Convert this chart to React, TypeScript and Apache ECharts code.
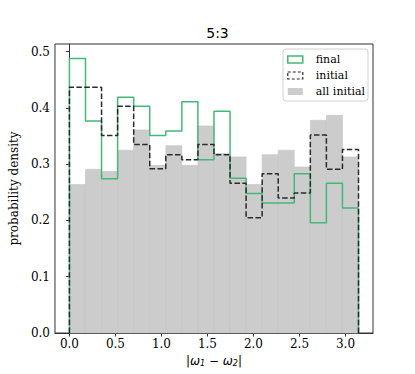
import React, { useEffect, useRef } from "react";
import * as echarts from "echarts";

const BIN_COUNT = 18;
const X_MAX_EDGE = Math.PI;
const allInitial = [0.264, 0.291, 0.287, 0.325, 0.361, 0.298, 0.333, 0.298, 0.368, 0.319, 0.313, 0.264, 0.317, 0.325, 0.295, 0.378, 0.387, 0.313];
const initial = [0.437, 0.437, 0.351, 0.403, 0.335, 0.292, 0.317, 0.308, 0.335, 0.317, 0.266, 0.205, 0.283, 0.240, 0.249, 0.352, 0.291, 0.326];
const finalVals = [0.488, 0.377, 0.274, 0.419, 0.403, 0.351, 0.359, 0.411, 0.308, 0.394, 0.275, 0.248, 0.231, 0.231, 0.283, 0.196, 0.266, 0.222];
const xTicks = [0, 0.5, 1.0, 1.5, 2.0, 2.5, 3.0];
const yTicks = [0, 0.1, 0.2, 0.3, 0.4, 0.5];

const GREEN = "#43b877";
const DASH = "#2a2a2a";
const GRAY = "#cccccc";

function edges(): number[] {
  const w = X_MAX_EDGE / BIN_COUNT;
  const e: number[] = [];
  for (let i = 0; i <= BIN_COUNT; i++) e.push(i * w);
  return e;
}

function stepPoints(vals: number[]): number[][] {
  const e = edges();
  const pts: number[][] = [[e[0], 0]];
  vals.forEach((v, i) => {
    pts.push([e[i], v]);
    pts.push([e[i + 1], v]);
  });
  pts.push([e[vals.length], 0]);
  return pts;
}

export default function App() {
  const ref = useRef<HTMLDivElement>(null);
  useEffect(() => {
    if (!ref.current) return;
    const chart = echarts.init(ref.current, undefined, { renderer: "svg" });
    const e = edges();
    const barData = allInitial.map((v, i) => [e[i], e[i + 1], v]);
    const serif = "DejaVu Serif";
    const legendText = { fontFamily: serif, fontSize: 11, color: "#000", lineHeight: 13, padding: [0, 0, 0, 8] };
    chart.setOption({
      animation: false,
      backgroundColor: "#ffffff",
      title: {
        text: "5:3",
        left: 212.5,
        textAlign: "center",
        top: 21,
        textStyle: { fontFamily: "DejaVu Sans", fontSize: 14, fontWeight: "normal", color: "#000" },
      },
      grid: { left: 52, right: 42, top: 44, bottom: 41, show: true, borderColor: "#333", borderWidth: 1 },
      legend: {
        orient: "vertical",
        right: 47,
        top: 49,
        backgroundColor: "#ffffff",
        borderColor: "#d0d0d0",
        borderWidth: 1,
        borderRadius: 3,
        padding: [4, 3, 3, 4],
        itemWidth: 15,
        itemHeight: 7,
        itemGap: 3,
        icon: "rect",
        textStyle: legendText,
        data: [
          { name: "final", icon: "rect", textStyle: legendText, itemStyle: { color: "rgba(255,255,255,0)", borderColor: GREEN, borderWidth: 1.5 } },
          { name: "initial", icon: "rect", textStyle: legendText, itemStyle: { color: "rgba(255,255,255,0)", borderColor: DASH, borderWidth: 1.2, borderType: [3, 2] } },
          { name: "all initial", icon: "rect", textStyle: legendText, itemStyle: { color: GRAY, borderWidth: 0 } },
        ],
      },
      xAxis: {
        type: "value",
        min: -0.157,
        max: 3.299,
        name: "{t||}{w|ω}{s|1}{t| − }{w|ω}{s|2}{t||}",
        nameLocation: "middle",
        nameGap: 20,
        nameTextStyle: {
          rich: {
            t: { fontFamily: "DejaVu Sans", fontSize: 12, color: "#000" },
            w: { fontFamily: "DejaVu Sans", fontStyle: "italic", fontSize: 12, color: "#000" },
            s: { fontFamily: "DejaVu Sans", fontStyle: "italic", fontSize: 8, color: "#000", verticalAlign: "bottom", padding: [6, 0, 0, 0] },
          },
        },
        axisLine: { show: true, lineStyle: { color: "#333", width: 1 } },
        axisTick: { show: true, length: 3.5, lineStyle: { color: "#333" }, customValues: xTicks },
        axisLabel: {
          customValues: xTicks,
          formatter: (v: number) => v.toFixed(1),
          fontFamily: serif,
          fontSize: 12,
          color: "#000",
          margin: 5,
        },
        splitLine: { show: false },
      },
      yAxis: {
        type: "value",
        min: 0,
        max: 0.5137,
        name: "probability density",
        nameLocation: "middle",
        nameRotate: 90,
        nameGap: 32,
        nameTextStyle: { fontFamily: serif, fontSize: 12, color: "#000" },
        axisLine: { show: true, lineStyle: { color: "#333", width: 1 } },
        axisTick: { show: true, length: 3.5, lineStyle: { color: "#333" }, customValues: yTicks },
        axisLabel: {
          customValues: yTicks,
          formatter: (v: number) => v.toFixed(1),
          fontFamily: serif,
          fontSize: 12,
          color: "#000",
          margin: 5,
        },
        splitLine: { show: false },
      },
      series: [
        {
          name: "all initial",
          type: "custom",
          z: 1,
          itemStyle: { color: GRAY },
          encode: { x: [0, 1], y: 2 },
          data: barData,
          renderItem: (params: any, api: any) => {
            const p0 = api.coord([api.value(0), 0]);
            const p1 = api.coord([api.value(1), api.value(2)]);
            return {
              type: "rect",
              shape: { x: p0[0], y: p1[1], width: p1[0] - p0[0], height: p0[1] - p1[1] },
              style: { fill: GRAY, stroke: "#c5c5c5", lineWidth: 0.6 },
            };
          },
        },
        {
          name: "final",
          type: "line",
          z: 2,
          symbol: "none",
          color: GREEN,
          lineStyle: { color: GREEN, width: 1.5 },
          data: stepPoints(finalVals),
        },
        {
          name: "initial",
          type: "line",
          z: 3,
          symbol: "none",
          color: DASH,
          lineStyle: { color: DASH, width: 1.5, type: [5.5, 2.4] },
          data: stepPoints(initial),
        },
      ],
    });
    return () => chart.dispose();
  }, []);
  return <div ref={ref} style={{ position: "fixed", left: 0, top: 0, width: 415, height: 374 }} />;
}
